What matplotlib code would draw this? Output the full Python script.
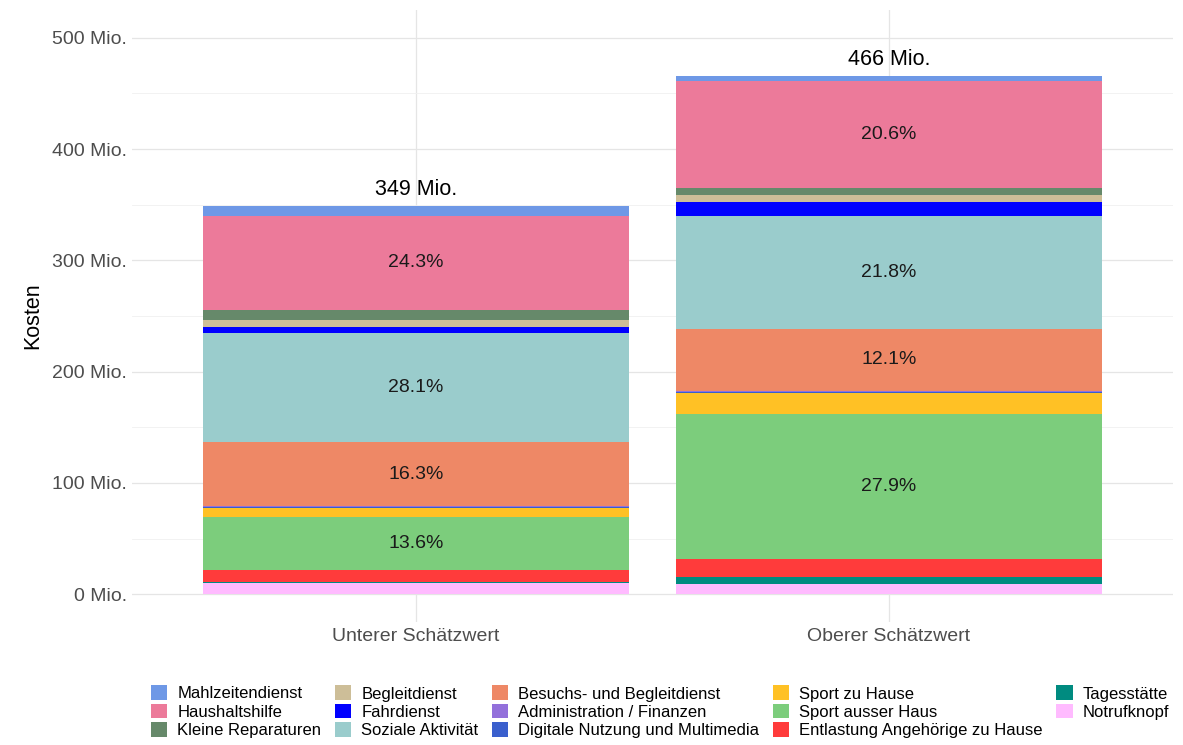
import numpy as np
import matplotlib.pyplot as plt
from matplotlib.patches import Patch
from matplotlib.ticker import MultipleLocator, FuncFormatter

plt.rcParams['font.family'] = ['Liberation Sans', 'DejaVu Sans']

# categories on the x axis
groups = ["Unterer Schätzwert", "Oberer Schätzwert"]

# services in legend order (top of the stack first)
services = ["Mahlzeitendienst", "Haushaltshilfe", "Kleine Reparaturen",
            "Begleitdienst", "Fahrdienst", "Soziale Aktivität",
            "Besuchs- und Begleitdienst", "Administration / Finanzen",
            "Digitale Nutzung und Multimedia", "Sport zu Hause",
            "Sport ausser Haus", "Entlastung Angehörige zu Hause",
            "Tagesstätte", "Notrufknopf"]

# costs in Mio. (same order as services)
unterer = [8.7, 84.8, 9.5, 6.0, 5.5, 98.1, 56.9, 1.5, 0.5, 8.0, 47.5, 11.0, 1.0, 10.0]
oberer = [5.1, 96.0, 6.0, 6.0, 12.6, 101.6, 56.4, 1.0, 0.3, 19.5, 130.0, 16.0, 6.5, 9.0]

colors = ["#6E98E6", "#EC7A9A", "#66896A", "#CDBE98", "#0000FF", "#9ACCCC",
          "#EE8866", "#9370DB", "#3A5FCD", "#FFC125", "#7CCD7C", "#FF3B3B",
          "#008B80", "#FFBBFF"]

fig = plt.figure(figsize=(11.83, 7.45), dpi=100)
ax = fig.add_axes([132.2/1183, 1-622/745, 1040.6/1183, 612/745])

x = np.arange(len(groups))
data = np.array([unterer, oberer])  # shape (2, 14)
totals = data.sum(axis=1)

bottom = np.zeros(len(groups))
# draw from bottom of stack (last service) upwards
for k in range(len(services)-1, -1, -1):
    vals = data[:, k]
    ax.bar(x, vals, 0.9, bottom=bottom, color=colors[k], linewidth=0, zorder=2)
    for i in range(len(groups)):
        share = vals[i]/totals[i]*100
        if share > 10:
            ax.text(x[i], bottom[i]+vals[i]/2, "%.1f%%" % share, ha='center', va='center',
                    fontsize=14, color='#1a1a1a', zorder=3)
    bottom = bottom + vals

for i in range(len(groups)):
    ax.annotate("%d Mio." % round(totals[i]), (x[i], totals[i]), xytext=(0, 4),
                textcoords='offset points', ha='center', va='bottom', fontsize=15.5, color='black')

ax.set_xlim(-0.6, 1.6)
ax.set_ylim(-25, 525)
ax.set_xticks(x)
ax.set_xticklabels(groups, fontsize=14, color='#4D4D4D')
ax.yaxis.set_major_locator(MultipleLocator(100))
ax.yaxis.set_minor_locator(MultipleLocator(50))
ax.yaxis.set_major_formatter(FuncFormatter(lambda v, p: "%d Mio." % v))
ax.tick_params(axis='y', labelsize=14, labelcolor='#4D4D4D', length=0, which='both', pad=4)
ax.tick_params(axis='x', length=0, pad=4)
ax.grid(axis='y', which='major', color='#E5E5E5', linewidth=0.9, zorder=0)
ax.grid(axis='y', which='minor', color='#F0F0F0', linewidth=0.6, zorder=0)
ax.grid(axis='x', which='major', color='#E5E5E5', linewidth=0.9, zorder=0)
for s in ax.spines.values():
    s.set_visible(False)
ax.set_ylabel("Kosten", fontsize=15.5, labelpad=6)

handles = [Patch(facecolor=c, edgecolor='none') for c in colors]
fig.legend(handles, services, loc='upper center', bbox_to_anchor=(660/1183, 1-677/745),
           ncol=5, frameon=False, fontsize=12, handlelength=1.0, handleheight=1.0,
           handletextpad=0.6, columnspacing=0.8, labelspacing=0.12, borderpad=0)

fig.savefig("out.png", dpi=100)
